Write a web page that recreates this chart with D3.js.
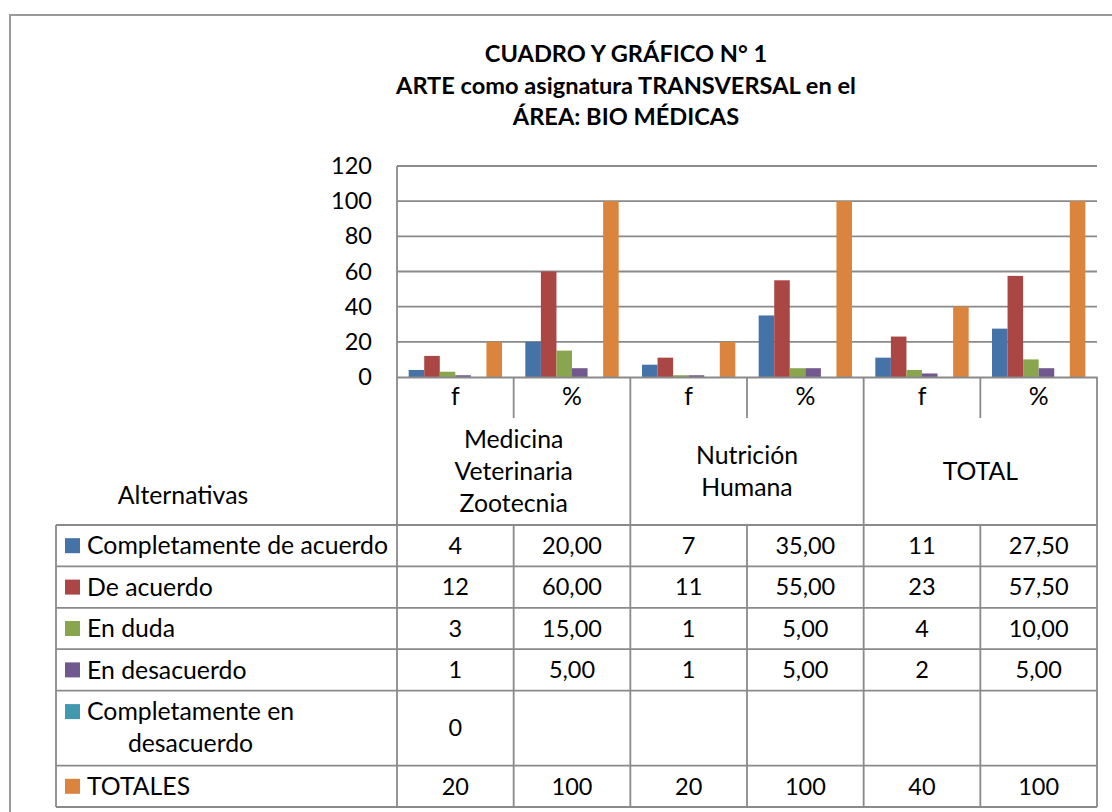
<!DOCTYPE html>
<html>
<head>
<meta charset="utf-8">
<script src="https://cdn.jsdelivr.net/npm/d3@7"></script>
<style>
  body { margin: 0; background: #fff; }
  svg text { font-family: Lato, "Open Sans", sans-serif; fill: #000; }
</style>
</head>
<body>
<div class="chart"></div>
<script>
// Table columns and the groups they belong to
const columns = ["f", "%", "f", "%", "f", "%"];
const groupLabels = [["Medicina", "Veterinaria", "Zootecnia"], ["Nutrición", "Humana"], ["TOTAL"]];

// Series (one per table row)
const seriesLabels = [
  ["Completamente de acuerdo"],
  ["De acuerdo"],
  ["En duda"],
  ["En desacuerdo"],
  ["Completamente en", "desacuerdo"],
  ["TOTALES"]
];
const seriesColors = ["#4572A7", "#AA4643", "#89A54E", "#71588F", "#4198AF", "#DB843D"];

// Values (null = empty cell)
const completamenteDeAcuerdo = [4, 20, 7, 35, 11, 27.5];
const deAcuerdo = [12, 60, 11, 55, 23, 57.5];
const enDuda = [3, 15, 1, 5, 4, 10];
const enDesacuerdo = [1, 5, 1, 5, 2, 5];
const completamenteEnDesacuerdo = [0, null, null, null, null, null];
const totales = [20, 100, 20, 100, 40, 100];
const seriesValues = [completamenteDeAcuerdo, deAcuerdo, enDuda, enDesacuerdo, completamenteEnDesacuerdo, totales];

const yTicks = [0, 20, 40, 60, 80, 100, 120];

const titleLines = ["CUADRO Y GRÁFICO N° 1", "ARTE como asignatura TRANSVERSAL en el", "ÁREA: BIO MÉDICAS"];

// Layout
const W = 1112, H = 812;
const plotLeft = 397, plotRight = 1097, plotTop = 166, plotBottom = 377;
const tableLeft = 56, headerBottom = 418, bodyTop = 525;
const rowHeights = [41.4, 41.4, 41.4, 41.4, 75, 41.4];
const wordSize = 24.8;   // words (labels)
const numSize = 23;      // digits (ticks, cells)
const lineColor = "#8a8a8a";

const svg = d3.select(".chart")
  .append("svg")
  .attr("width", W)
  .attr("height", H);

const x0 = d3.scaleBand()
  .domain(d3.range(columns.length))
  .range([plotLeft, plotRight]);

const x1 = d3.scaleBand()
  .domain(d3.range(seriesValues.length))
  .range([0, x0.bandwidth()])
  .paddingOuter(0.75);

const y = d3.scaleLinear()
  .domain([0, 120])
  .range([plotBottom, plotTop]);

// row boundaries of the table body
const rowTops = [bodyTop];
rowHeights.forEach(function (h, i) { rowTops.push(rowTops[i] + h); });
const tableBottom = rowTops[rowTops.length - 1];

drawFrame();
drawTitle();
drawGrid();
drawBars();
drawAxes();
drawTable();

//outer border of the chart
function drawFrame() {
  svg.append("path")
    .attr("d", "M10," + H + "V15H" + W)
    .attr("fill", "none")
    .attr("stroke", "#9a9a9a")
    .attr("stroke-width", 2);
}

function drawTitle() {
  svg.append("g")
    .selectAll("text")
    .data(titleLines)
    .enter()
    .append("text")
    .attr("x", 626)
    .attr("y", function (d, i) { return 62 + i * 31.6; })
    .attr("text-anchor", "middle")
    .style("font-size", "23.6px")
    .style("font-weight", "bold")
    .text(function (d) { return d; });
}

function drawGrid() {
  svg.append("g")
    .selectAll("line")
    .data(yTicks.filter(function (d) { return d > 0; }))
    .enter()
    .append("line")
    .attr("x1", plotLeft)
    .attr("x2", plotRight)
    .attr("y1", function (d) { return y(d); })
    .attr("y2", function (d) { return y(d); })
    .attr("stroke", lineColor)
    .attr("stroke-width", 1.8);
}

function drawBars() {
  const cells = [];
  seriesValues.forEach(function (vals, s) {
    vals.forEach(function (v, c) {
      if (v) cells.push({ s: s, c: c, v: v });
    });
  });

  svg.append("g")
    .selectAll("rect")
    .data(cells)
    .enter()
    .append("rect")
    .attr("x", function (d) { return x0(d.c) + x1(d.s); })
    .attr("y", function (d) { return y(d.v); })
    .attr("width", x1.bandwidth())
    .attr("height", function (d) { return y(0) - y(d.v); })
    .attr("fill", function (d) { return seriesColors[d.s]; });
}

function drawAxes() {
  const yAxis = svg.append("g")
    .attr("transform", "translate(" + plotLeft + ",0)")
    .call(d3.axisLeft(y).tickValues(yTicks).tickSize(0).tickPadding(25));
  yAxis.select(".domain").remove();
  yAxis.selectAll("text")
    .style("font-size", "23.5px")
    .style("font-family", "Lato, sans-serif");

  const xAxis = svg.append("g")
    .attr("transform", "translate(0," + plotBottom + ")")
    .call(d3.axisBottom(x0).tickSize(0).tickPadding(10.5)
      .tickFormat(function (i) { return columns[i]; }));
  xAxis.select(".domain")
    .attr("stroke", lineColor)
    .attr("stroke-width", 1.8);
  xAxis.selectAll("text")
    .style("font-size", wordSize + "px")
    .style("font-family", "Lato, sans-serif");
}

function cellText(v, col, row) {
  if (v == null) return "";
  if (columns[col] === "%" && row < seriesValues.length - 1) {
    return d3.format(".2f")(v).replace(".", ",");
  }
  return String(v);
}

function drawTable() {
  const g = svg.append("g")
    .attr("stroke", lineColor)
    .attr("stroke-width", 1.8);

  // left edge of plot + table
  g.append("line")
    .attr("x1", plotLeft).attr("x2", plotLeft)
    .attr("y1", plotTop).attr("y2", tableBottom);

  // column dividers
  d3.range(1, columns.length + 1).forEach(function (c) {
    const xPos = c < columns.length ? x0(c) : plotRight;
    if (c % 2 === 0) {
      g.append("line")
        .attr("x1", xPos).attr("x2", xPos)
        .attr("y1", plotBottom).attr("y2", tableBottom);
    } else {
      g.append("line")
        .attr("x1", xPos).attr("x2", xPos)
        .attr("y1", plotBottom).attr("y2", headerBottom);
      g.append("line")
        .attr("x1", xPos).attr("x2", xPos)
        .attr("y1", bodyTop).attr("y2", tableBottom);
    }
  });

  // body rows
  g.append("line")
    .attr("x1", tableLeft).attr("x2", tableLeft)
    .attr("y1", bodyTop).attr("y2", tableBottom);
  rowTops.forEach(function (yy) {
    g.append("line")
      .attr("x1", tableLeft).attr("x2", plotRight)
      .attr("y1", yy).attr("y2", yy);
  });

  // group labels
  groupLabels.forEach(function (lines, k) {
    const cx = x0(k * 2) + x0.bandwidth();
    svg.append("g")
      .selectAll("text")
      .data(lines)
      .enter()
      .append("text")
      .attr("x", cx)
      .attr("y", function (d, i) { return 480 + (i - (lines.length - 1) / 2) * 32; })
      .attr("text-anchor", "middle")
      .style("font-size", wordSize + "px")
      .text(function (d) { return d; });
  });

  svg.append("text")
    .attr("x", 183)
    .attr("y", 504)
    .attr("text-anchor", "middle")
    .style("font-size", wordSize + "px")
    .text("Alternativas");

  // legend keys, labels and values
  seriesLabels.forEach(function (lines, r) {
    const top = rowTops[r];
    const mid = top + rowHeights[r] / 2;
    const firstMid = lines.length > 1 ? mid - 16.5 : mid;

    svg.append("rect")
      .attr("x", 65)
      .attr("y", firstMid - 7.5)
      .attr("width", 15)
      .attr("height", 15)
      .attr("fill", seriesColors[r]);

    const lab = svg.append("g");
    lines.forEach(function (t, i) {
      const txt = lab.append("text")
        .attr("y", firstMid + 8.6 + i * 32)
        .style("font-size", wordSize + "px")
        .text(t);
      if (i === 0) {
        txt.attr("x", 87);
      } else {
        const w0 = lab.select("text").node().getComputedTextLength();
        txt.attr("x", 87 + w0 / 2).attr("text-anchor", "middle");
      }
    });

    seriesValues[r].forEach(function (v, c) {
      svg.append("text")
        .attr("x", x0(c) + x0.bandwidth() / 2)
        .attr("y", mid + 8.3)
        .attr("text-anchor", "middle")
        .style("font-size", "23.5px")
        .text(cellText(v, c, r));
    });
  });
}
</script>
</body>
</html>
